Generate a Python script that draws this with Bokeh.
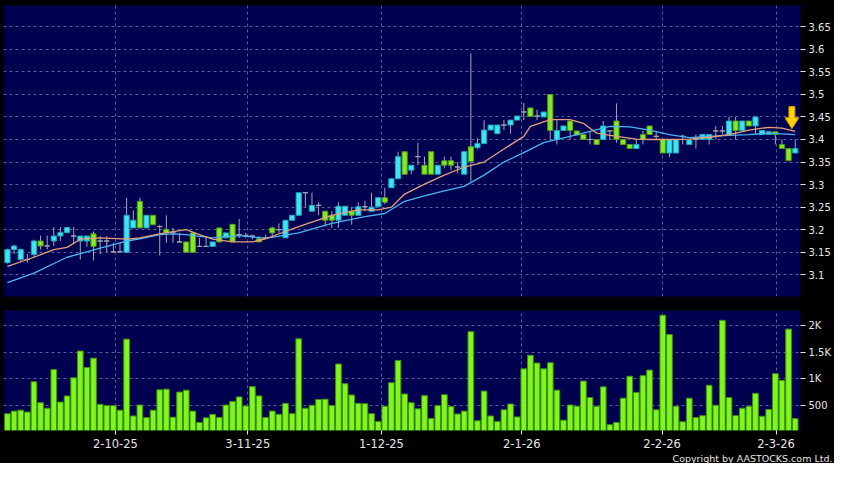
from bokeh.plotting import figure
from bokeh.models import Range1d, FixedTicker, CustomJSTickFormatter, ColumnDataSource, Title
from bokeh.layouts import column
from bokeh.embed import file_html
from bokeh.resources import INLINE

# ---------------- data ----------------
OPEN = [3.127, 3.156, 3.134, 3.134, 3.145, 3.175, 3.164, 3.175, 3.186, 3.194,
        3.186, 3.175, 3.175, 3.191, 3.175, 3.175, 3.151, 3.151, 3.150, 3.204,
        3.263, 3.204, 3.232, 3.207, 3.201, 3.193, 3.173, 3.173, 3.193, 3.163,
        3.163, 3.163, 3.204, 3.182, 3.212, 3.189, 3.187, 3.186, 3.180, 3.182,
        3.204, 3.200, 3.182, 3.221, 3.232, 3.282, 3.241, 3.254, 3.241, 3.232,
        3.221, 3.232, 3.241, 3.232, 3.251, 3.241, 3.251, 3.271, 3.293, 3.313,
        3.373, 3.332, 3.362, 3.343, 3.373, 3.323, 3.353, 3.353, 3.339, 3.323,
        3.384, 3.382, 3.391, 3.421, 3.413, 3.432, 3.432, 3.443, 3.461, 3.470,
        3.452, 3.450, 3.500, 3.400, 3.420, 3.441, 3.419, 3.411, 3.400, 3.400,
        3.400, 3.419, 3.441, 3.400, 3.389, 3.380, 3.411, 3.430, 3.407, 3.400,
        3.370, 3.370, 3.407, 3.389, 3.400, 3.400, 3.400, 3.419, 3.419, 3.411,
        3.441, 3.420, 3.441, 3.430, 3.411, 3.411, 3.417, 3.389, 3.380, 3.370]
HIGH = [3.158, 3.167, 3.158, 3.146, 3.178, 3.187, 3.187, 3.206, 3.206, 3.206,
        3.206, 3.186, 3.186, 3.196, 3.186, 3.186, 3.171, 3.171, 3.271, 3.243,
        3.271, 3.232, 3.232, 3.211, 3.232, 3.204, 3.193, 3.173, 3.193, 3.182,
        3.182, 3.173, 3.204, 3.193, 3.212, 3.224, 3.193, 3.189, 3.186, 3.189,
        3.207, 3.214, 3.221, 3.232, 3.282, 3.282, 3.282, 3.261, 3.241, 3.241,
        3.261, 3.252, 3.250, 3.261, 3.264, 3.282, 3.271, 3.293, 3.314, 3.373,
        3.373, 3.343, 3.393, 3.362, 3.373, 3.343, 3.362, 3.362, 3.350, 3.373,
        3.591, 3.403, 3.443, 3.432, 3.432, 3.443, 3.443, 3.452, 3.481, 3.470,
        3.466, 3.461, 3.500, 3.443, 3.430, 3.441, 3.419, 3.411, 3.419, 3.400,
        3.441, 3.419, 3.480, 3.400, 3.389, 3.400, 3.419, 3.430, 3.419, 3.400,
        3.400, 3.400, 3.411, 3.399, 3.411, 3.411, 3.411, 3.430, 3.430, 3.450,
        3.450, 3.441, 3.441, 3.450, 3.420, 3.417, 3.417, 3.400, 3.380, 3.400]
LOW = [3.125, 3.146, 3.130, 3.127, 3.139, 3.156, 3.156, 3.164, 3.175, 3.192,
       3.168, 3.134, 3.162, 3.132, 3.146, 3.150, 3.150, 3.150, 3.149, 3.204,
       3.204, 3.204, 3.211, 3.143, 3.171, 3.171, 3.171, 3.150, 3.150, 3.163,
       3.163, 3.163, 3.173, 3.182, 3.173, 3.182, 3.182, 3.179, 3.173, 3.179,
       3.182, 3.193, 3.182, 3.221, 3.232, 3.250, 3.241, 3.232, 3.207, 3.204,
       3.204, 3.232, 3.211, 3.232, 3.241, 3.241, 3.251, 3.257, 3.293, 3.313,
       3.323, 3.323, 3.343, 3.323, 3.323, 3.323, 3.336, 3.332, 3.325, 3.323,
       3.307, 3.379, 3.391, 3.421, 3.413, 3.421, 3.413, 3.443, 3.443, 3.451,
       3.443, 3.450, 3.399, 3.389, 3.420, 3.400, 3.410, 3.400, 3.389, 3.389,
       3.400, 3.400, 3.393, 3.389, 3.380, 3.380, 3.389, 3.411, 3.400, 3.370,
       3.361, 3.370, 3.389, 3.389, 3.380, 3.400, 3.389, 3.400, 3.411, 3.411,
       3.400, 3.420, 3.430, 3.411, 3.411, 3.411, 3.389, 3.380, 3.353, 3.370]
CLOSE = [3.156, 3.164, 3.156, 3.134, 3.175, 3.164, 3.164, 3.186, 3.194, 3.205,
         3.186, 3.186, 3.186, 3.163, 3.175, 3.175, 3.151, 3.151, 3.232, 3.221,
         3.204, 3.232, 3.211, 3.207, 3.193, 3.193, 3.173, 3.150, 3.150, 3.163,
         3.163, 3.173, 3.173, 3.193, 3.173, 3.189, 3.187, 3.186, 3.173, 3.182,
         3.193, 3.200, 3.221, 3.232, 3.282, 3.282, 3.254, 3.254, 3.221, 3.221,
         3.252, 3.252, 3.232, 3.251, 3.251, 3.250, 3.271, 3.261, 3.313, 3.362,
         3.323, 3.343, 3.362, 3.323, 3.323, 3.343, 3.343, 3.343, 3.339, 3.373,
         3.351, 3.391, 3.421, 3.432, 3.432, 3.432, 3.443, 3.452, 3.461, 3.451,
         3.452, 3.461, 3.420, 3.420, 3.430, 3.420, 3.410, 3.400, 3.400, 3.389,
         3.430, 3.419, 3.400, 3.389, 3.380, 3.389, 3.400, 3.411, 3.407, 3.370,
         3.400, 3.400, 3.407, 3.399, 3.400, 3.411, 3.411, 3.419, 3.419, 3.441,
         3.420, 3.441, 3.430, 3.450, 3.420, 3.417, 3.411, 3.380, 3.353, 3.380]
VOLUME = [347, 395, 413, 377, 949, 553, 450, 1180, 565, 681,
          1022, 1527, 1216, 1393, 523, 499, 499, 413, 1751, 304,
          510, 274, 413, 796, 809, 280, 754, 790, 395, 183,
          268, 334, 274, 510, 578, 663, 492, 857, 681, 274,
          395, 334, 541, 347, 1757, 450, 505, 614, 620, 499,
          1283, 912, 699, 541, 535, 347, 201, 486, 930, 1350,
          718, 553, 438, 687, 255, 499, 705, 480, 341, 395,
          1891, 213, 772, 304, 201, 419, 529, 286, 1192, 1447,
          1301, 1192, 1307, 790, 225, 511, 487, 961, 651, 487,
          852, 140, 182, 639, 1052, 748, 1064, 1168, 420, 2202,
          1837, 487, 195, 639, 274, 310, 882, 505, 2105, 651,
          310, 450, 487, 730, 298, 426, 1101, 973, 1940, 255]

# moving averages (read at the listed bar numbers)
MA_SHORT_IDX = [0, 4, 7, 9, 11, 14, 18, 20, 23, 25, 27, 29, 31, 34, 37, 39, 44, 49, 53,
                56, 58, 60, 63, 66, 69, 72, 75, 78, 79, 82, 85, 87, 89, 92, 95, 97, 100,
                103, 106, 109, 112, 115, 117, 119]
MA_SHORT = [3.119, 3.139, 3.156, 3.161, 3.179, 3.182, 3.179, 3.182, 3.191, 3.196, 3.200,
            3.189, 3.179, 3.173, 3.173, 3.180, 3.207, 3.232, 3.244, 3.244, 3.250, 3.279,
            3.301, 3.321, 3.339, 3.350, 3.379, 3.407, 3.429, 3.444, 3.444, 3.436, 3.414,
            3.407, 3.401, 3.400, 3.400, 3.401, 3.405, 3.411, 3.421, 3.427, 3.425, 3.418]
MA_LONG_IDX = [0, 4, 9, 14, 18, 20, 23, 25, 27, 31, 35, 39, 44, 49, 54, 57, 60, 63, 66,
               69, 72, 75, 78, 81, 85, 88, 91, 94, 97, 100, 103, 106, 109, 112, 115, 119]
MA_LONG = [3.083, 3.104, 3.139, 3.159, 3.175, 3.180, 3.189, 3.191, 3.189, 3.182, 3.187,
           3.181, 3.193, 3.214, 3.229, 3.236, 3.263, 3.275, 3.286, 3.296, 3.321, 3.350,
           3.371, 3.393, 3.407, 3.418, 3.429, 3.428, 3.421, 3.411, 3.404, 3.407, 3.409,
           3.411, 3.414, 3.411]

TICK_POS = [16.3, 36.3, 56.5, 77.7, 98.9, 116.1]
TICK_LABELS = ["2-10-25", "3-11-25", "1-12-25", "2-1-26", "2-2-26", "2-3-26"]
PRICE_TICKS = [3.1, 3.15, 3.2, 3.25, 3.3, 3.35, 3.4, 3.45, 3.5, 3.55, 3.6, 3.65]
VOL_TICKS = [500, 1000, 1500, 2000]
VOL_LABELS = ["500", "1K", "1.5K", "2K"]
ARROW_X, ARROW_TIP = 118.5, 3.424

# ---------------- styling ----------------
NAVY = "#000050"
GRID = "#5a5a98"
TXT = "#e6e6e6"
FONT = "DejaVu Sans"
UP_FILL, UP_LINE = "#3fe3f2", "#1aa6b8"
DN_FILL, DN_LINE = "#84ea26", "#4f9c12"
WICK = "#a6a6b4"

idx = list(range(len(OPEN)))
top, bot, fill, line = [], [], [], []
for o, c in zip(OPEN, CLOSE):
    top.append(max(o, c)); bot.append(min(o, c))
    if c > o:
        fill.append(UP_FILL); line.append(UP_LINE)
    elif c < o:
        fill.append(DN_FILL); line.append(DN_LINE)
    else:
        fill.append(WICK); line.append(WICK)
src = ColumnDataSource(dict(x=idx, h=HIGH, l=LOW, top=top, bot=bot, fill=fill, line=line))

FW = 797
xr = Range1d(-0.6, 119.8)

p1 = figure(frame_width=FW, frame_height=291, x_range=xr, y_range=Range1d(3.052, 3.697),
            y_axis_location="right", output_backend="svg", toolbar_location=None,
            min_border_left=3, min_border_top=5, min_border_bottom=14, min_border_right=34,
            background_fill_color=NAVY, border_fill_color="black", outline_line_color=None)
p1.segment(x0="x", y0="h", x1="x", y1="l", source=src, line_color=WICK, line_width=1)
p1.vbar(x="x", top="top", bottom="bot", width=0.78, source=src,
        fill_color="fill", line_color="line", line_width=1)
p1.line(MA_LONG_IDX, MA_LONG, line_color="#4cb4f4", line_width=1.3)
p1.line(MA_SHORT_IDX, MA_SHORT, line_color="#e4a07a", line_width=1.3)

# arrow marker
ax, tip = ARROW_X, ARROW_TIP
p1.patch([ax - 0.45, ax + 0.45, ax + 0.45, ax + 1.05, ax, ax - 1.05, ax - 0.45],
         [tip + 0.049, tip + 0.049, tip + 0.024, tip + 0.024, tip, tip + 0.024, tip + 0.024],
         fill_color="#ffd400", line_color="#d89a00", line_width=1)

p1.xaxis.visible = False
p1.yaxis.ticker = FixedTicker(ticks=PRICE_TICKS)
p1.yaxis.formatter = CustomJSTickFormatter(code="return tick.toFixed(2).replace(/0$/, '')")

p2 = figure(frame_width=FW, frame_height=120, x_range=xr, y_range=Range1d(30, 2290),
            y_axis_location="right", output_backend="svg", toolbar_location=None,
            min_border_left=3, min_border_top=0, min_border_bottom=0, min_border_right=34,
            background_fill_color=NAVY, border_fill_color="black", outline_line_color=None)
p2.vbar(x=idx, top=VOLUME, bottom=0, width=0.86, fill_color="#7ff71c", line_color="#3f8f10",
        line_width=1)
p2.yaxis.ticker = FixedTicker(ticks=VOL_TICKS)
p2.yaxis.major_label_overrides = dict(zip(VOL_TICKS, VOL_LABELS))

for p in (p1, p2):
    p.xaxis.ticker = FixedTicker(ticks=TICK_POS)
    for g in (p.xgrid, p.ygrid):
        g.grid_line_color = GRID
        g.grid_line_dash = "3 3"
        g.grid_line_width = 1
    for a in p.yaxis:
        a.axis_line_color = None
        a.major_tick_line_color = TXT
        a.major_tick_out = 5
        a.major_tick_in = 0
        a.minor_tick_line_color = None
        a.major_label_standoff = 3
        a.major_label_text_color = TXT
        a.major_label_text_font = FONT
        a.major_label_text_font_size = "10px"

xa = p2.xaxis[0]
xa.formatter = CustomJSTickFormatter(args=dict(labels=TICK_LABELS), code="return labels[index] || ''")
xa.axis_line_color = None
xa.major_tick_line_color = TXT
xa.major_tick_out = 4
xa.major_tick_in = 0
xa.minor_tick_line_color = None
xa.major_label_standoff = 4
xa.major_label_text_color = TXT
xa.major_label_text_font = FONT
xa.major_label_text_font_size = "11.5px"

p2.add_layout(Title(text="Copyright by AASTOCKS.com Ltd.", align="right", text_color=TXT,
                    text_font=FONT, text_font_size="9.5px", text_font_style="normal",
                    standoff=0, offset=-32), "below")

layout = column(p1, p2, spacing=0, styles={"background-color": "black"})
open("out.html", "w").write(file_html(layout, INLINE))
